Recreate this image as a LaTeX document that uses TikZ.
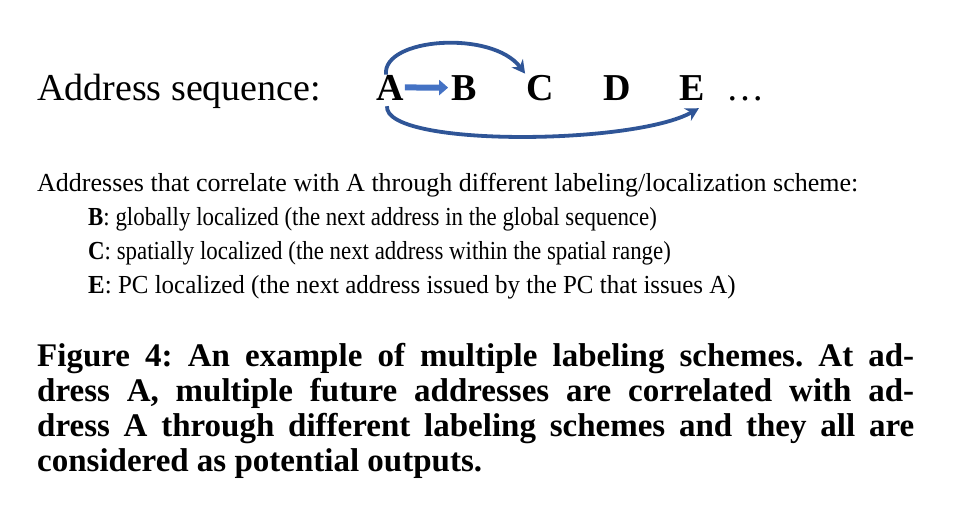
\documentclass[tikz,border=0pt]{standalone}
\usepackage{fontspec}
\usepackage{graphicx}
\setmainfont{Liberation Serif}
\usetikzlibrary{arrows.meta}
\definecolor{arrfill}{HTML}{4472C4}
\definecolor{arrdark}{HTML}{2F5597}
\frenchspacing
\begin{document}
\begin{tikzpicture}[x=1pt,y=-1pt,
  seqtext/.style={inner sep=0pt, anchor=base west, font=\fontsize{38}{40}\selectfont},
  letter/.style={inner sep=0pt, anchor=base, font=\fontsize{38}{40}\selectfont\bfseries},
  bodytext/.style={inner sep=0pt, anchor=base west, font=\fontsize{26}{30}\selectfont},
  captext/.style={inner sep=0pt, anchor=base west, font=\fontsize{33}{36}\selectfont\bfseries},
  curvearrow/.style={draw=arrdark, line width=3.8pt, -{Stealth[length=13pt,width=14pt]}},
  blockarrow/.style={draw=arrfill, line width=6pt, -{Triangle[length=9pt,width=15pt]}}
]
\useasboundingbox (0,0) rectangle (976,514);

\node[seqtext] (seq) at (37,100) {Address sequence:};
\node[letter] (A) at (390,100) {A};
\node[letter] (B) at (464,100) {B};
\node[letter] (C) at (540,100) {C};
\node[letter] (D) at (617,100) {D};
\node[letter] (E) at (692,100) {E};
\node[seqtext] (dots) at (726,100) {…};

\draw[blockarrow] ([xshift=1pt]A.east) -- ([xshift=-3pt]B.west);
\draw[curvearrow] ([xshift=-4pt]A.north) .. controls +(-4,-37) and +(-33,-44) .. ([shift={(-1,-1)}]C.north west);
\draw[curvearrow] ([shift={(-3,6)}]A.south) .. controls +(-3,41) and +(-65,37) .. ([shift={(-6,8)}]E.south east);

\node[bodytext] (intro) at (37,191) {Addresses that correlate with A through different labeling/localization scheme:};
\node[bodytext] (lb) at (88,225) {\scalebox{0.88}[1]{\textbf{B}: globally localized (the next address in the global sequence)}};
\node[bodytext] (lc) at (88,259) {\scalebox{0.88}[1]{\textbf{C}: spatially localized (the next address within the spatial range)}};
\node[bodytext] (le) at (88,293) {\scalebox{0.96}[1]{\textbf{E}: PC localized (the next address issued by the PC that issues A)}};

\node[captext] (cap1) at (37,366) {\makebox[877pt][s]{Figure 4: An example of multiple labeling schemes. At ad-}};
\node[captext] (cap2) at (37,401) {\makebox[877pt][s]{dress A, multiple future addresses are correlated with ad-}};
\node[captext] (cap3) at (37,436) {\makebox[877pt][s]{dress A through different labeling schemes and they all are}};
\node[captext] (cap4) at (37,471) {considered as potential outputs.};
\end{tikzpicture}
\end{document}
